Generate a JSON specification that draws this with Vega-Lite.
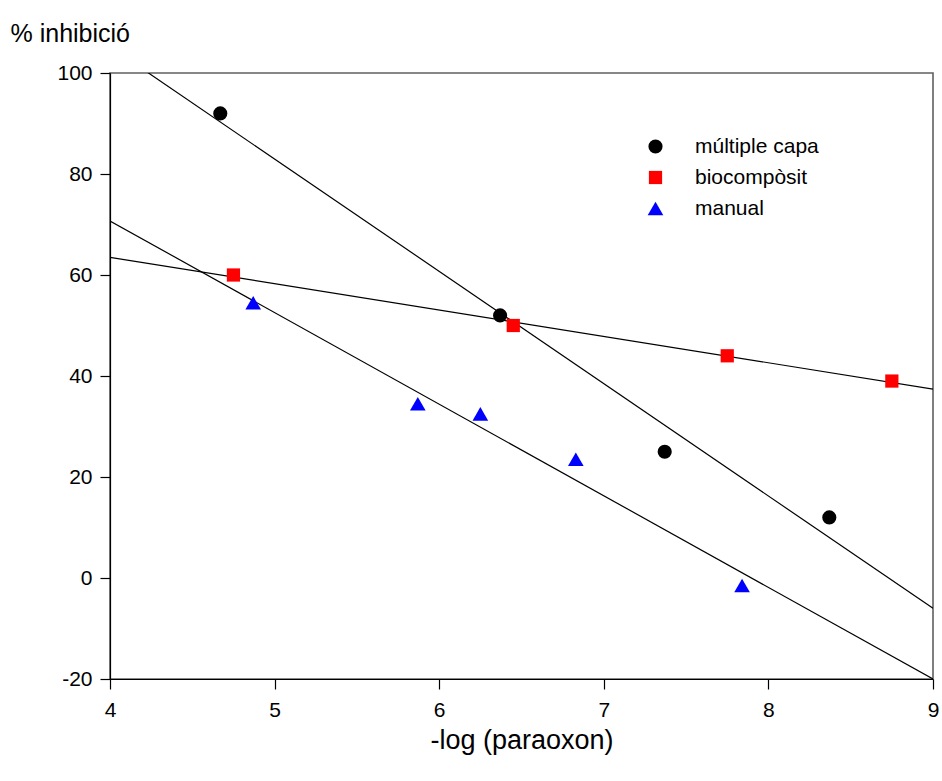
{
  "$schema": "https://vega.github.io/schema/vega-lite/v6.json",
  "width": 823,
  "height": 606,
  "autosize": {"type": "none"},
  "padding": {"left": 110, "top": 73, "right": 9, "bottom": 102},
  "background": "white",
  "config": {
    "font": "Liberation Sans",
    "view": {"stroke": "#606060", "strokeWidth": 1.6},
    "axis": {
      "grid": false,
      "domainColor": "black",
      "domainWidth": 1.2,
      "tickColor": "black",
      "tickWidth": 1.2,
      "tickSize": 10,
      "labelFont": "Liberation Sans",
      "labelFontSize": 21,
      "labelColor": "black",
      "labelFlush": false,
      "titleFont": "Liberation Sans",
      "titleFontWeight": "normal",
      "titleColor": "black"
    },
    "legend": {
      "labelFont": "Liberation Sans",
      "labelFontSize": 21,
      "labelColor": "black"
    }
  },
  "datasets": {
    "points": [
      {"serie": "múltiple capa", "x": 4.67, "y": 92},
      {"serie": "múltiple capa", "x": 6.37, "y": 52},
      {"serie": "múltiple capa", "x": 7.37, "y": 25},
      {"serie": "múltiple capa", "x": 8.37, "y": 12},
      {"serie": "biocompòsit", "x": 4.75, "y": 60},
      {"serie": "biocompòsit", "x": 6.45, "y": 50},
      {"serie": "biocompòsit", "x": 7.75, "y": 44},
      {"serie": "biocompòsit", "x": 8.75, "y": 39},
      {"serie": "manual", "x": 4.87, "y": 54.5},
      {"serie": "manual", "x": 5.87, "y": 34.5},
      {"serie": "manual", "x": 6.25, "y": 32.5},
      {"serie": "manual", "x": 6.83, "y": 23.5},
      {"serie": "manual", "x": 7.84, "y": -1.5}
    ],
    "lines": [
      {"serie": "múltiple capa", "x": 4, "y": 105.2},
      {"serie": "múltiple capa", "x": 9, "y": -6.0},
      {"serie": "biocompòsit", "x": 4, "y": 63.5},
      {"serie": "biocompòsit", "x": 9, "y": 37.4},
      {"serie": "manual", "x": 4, "y": 70.7},
      {"serie": "manual", "x": 9, "y": -20}
    ]
  },
  "layer": [
    {
      "data": {"name": "lines"},
      "mark": {"type": "line", "color": "black", "strokeWidth": 1.2, "clip": true},
      "encoding": {
        "x": {"field": "x", "type": "quantitative"},
        "y": {"field": "y", "type": "quantitative"},
        "detail": {"field": "serie", "type": "nominal"}
      }
    },
    {
      "data": {"name": "points"},
      "mark": {"type": "point", "filled": true, "opacity": 1},
      "encoding": {
        "x": {
          "field": "x",
          "type": "quantitative",
          "scale": {"domain": [4, 9], "nice": false, "zero": false},
          "axis": {
            "values": [4, 5, 6, 7, 8, 9],
            "format": "d",
            "labelPadding": 10,
            "title": "-log (paraoxon)",
            "titleFontSize": 27,
            "titleBaseline": "alphabetic",
            "titleY": 69
          }
        },
        "y": {
          "field": "y",
          "type": "quantitative",
          "scale": {"domain": [-20, 100], "nice": false, "zero": false},
          "axis": {
            "values": [-20, 0, 20, 40, 60, 80, 100],
            "labelExpr": "datum.value < 0 ? '-' + abs(datum.value) : '' + datum.value",
            "labelPadding": 8,
            "title": "% inhibició",
            "titleFontSize": 25,
            "titleAngle": 0,
            "titleAlign": "left",
            "titleBaseline": "alphabetic",
            "titleX": -100,
            "titleY": -32
          }
        },
        "shape": {
          "field": "serie",
          "type": "nominal",
          "scale": {"domain": ["múltiple capa", "biocompòsit", "manual"], "range": ["circle", "square", "triangle-up"]},
          "legend": {"title": null, "orient": "none", "legendX": 535, "legendY": 63, "padding": 0, "labelOffset": 29, "rowPadding": 9, "symbolStrokeWidth": 0}
        },
        "color": {
          "field": "serie",
          "type": "nominal",
          "scale": {"domain": ["múltiple capa", "biocompòsit", "manual"], "range": ["black", "#ff0000", "#0000ff"]},
          "legend": {"title": null, "orient": "none", "legendX": 535, "legendY": 63, "padding": 0, "labelOffset": 29, "rowPadding": 9, "symbolStrokeWidth": 0}
        },
        "size": {
          "field": "serie",
          "type": "nominal",
          "scale": {"type": "ordinal", "domain": ["múltiple capa", "biocompòsit", "manual"], "range": [200, 175, 245]},
          "legend": {"title": null, "orient": "none", "legendX": 535, "legendY": 63, "padding": 0, "labelOffset": 29, "rowPadding": 9, "symbolStrokeWidth": 0}
        }
      }
    }
  ]
}
